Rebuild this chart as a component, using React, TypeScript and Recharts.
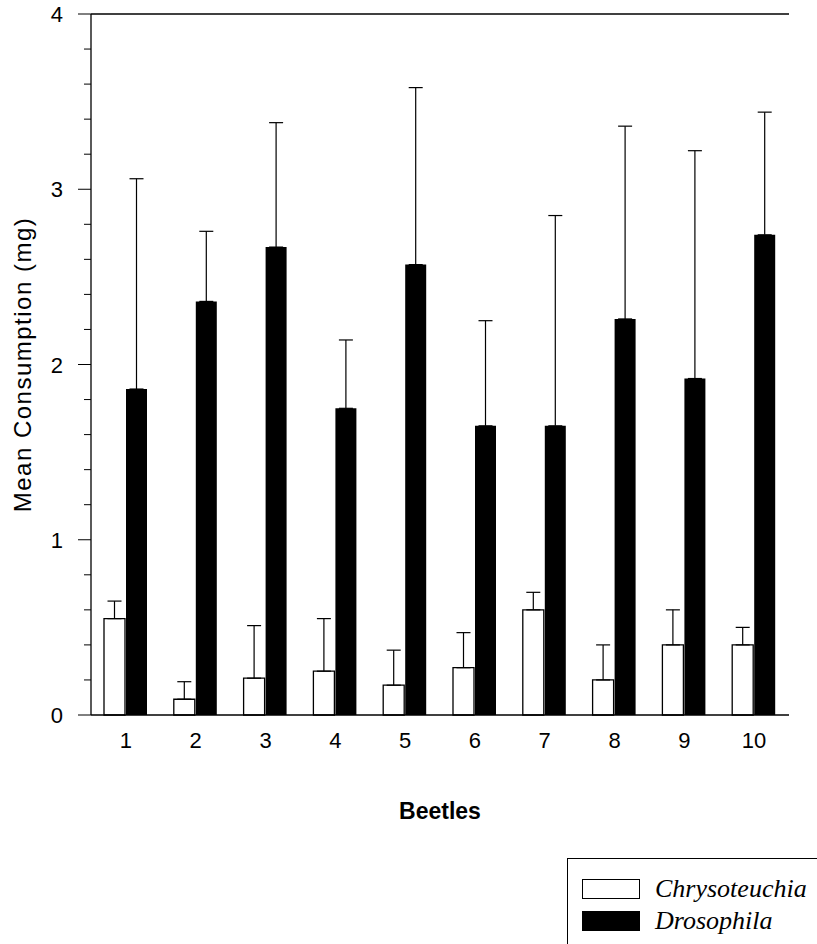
import { BarChart, Bar, ErrorBar, XAxis, YAxis, ReferenceLine } from "recharts"

const beetles = ["1", "2", "3", "4", "5", "6", "7", "8", "9", "10"]

// Chrysoteuchia (white bars)
const chrysoMean = [0.55, 0.09, 0.21, 0.25, 0.17, 0.27, 0.6, 0.2, 0.4, 0.4]
const chrysoSE = [0.1, 0.1, 0.3, 0.3, 0.2, 0.2, 0.1, 0.2, 0.2, 0.1]

// Drosophila (black bars)
const drosoMean = [1.86, 2.36, 2.67, 1.75, 2.57, 1.65, 1.65, 2.26, 1.92, 2.74]
const drosoSE = [1.2, 0.4, 0.71, 0.39, 1.01, 0.6, 1.2, 1.1, 1.3, 0.7]

const yTicks = [0, 0.2, 0.4, 0.6, 0.8, 1, 1.2, 1.4, 1.6, 1.8, 2, 2.2, 2.4, 2.6, 2.8, 3, 3.2, 3.4, 3.6, 3.8, 4]

const data = beetles.map((b, i) => ({
  beetle: b,
  chryso: chrysoMean[i],
  chrysoErr: [0, chrysoSE[i]],
  droso: drosoMean[i],
  drosoErr: [0, drosoSE[i]],
}))

const FONT = "'Liberation Sans', Arial, sans-serif"

const YTick = (props: any) => {
  const { x, y, payload } = props
  const major = Number.isInteger(payload.value)
  return (
    <g>
      <line x1={x - (major ? 13 : 7)} y1={y} x2={x} y2={y} stroke="#000" strokeWidth={1} />
      {major && (
        <text x={x - 28} y={y} dy={8} textAnchor="end" fontSize={22} fontFamily={FONT} fill="#000">
          {payload.value}
        </text>
      )}
    </g>
  )
}

export default function App() {
  return (
    <div style={{ position: "absolute", left: 0, top: 0, width: 817, height: 944, background: "#fff" }}>
      <BarChart
        width={817}
        height={944}
        data={data}
        margin={{ top: 14, right: 28, left: 0, bottom: 119 }}
        barGap={1}
        barCategoryGap="19%"
      >
        <XAxis
          dataKey="beetle"
          height={110}
          tickLine={false}
          tickSize={0}
          tickMargin={17}
          axisLine={{ stroke: "#000", strokeWidth: 1.3 }}
          tick={{ fill: "#000", fontSize: 22, fontFamily: FONT }}
          label={{
            value: "Beetles",
            position: "insideBottom",
            offset: 6,
            fill: "#000",
            fontSize: 23,
            fontWeight: "bold",
            fontFamily: FONT,
          }}
        />
        <YAxis
          width={91}
          domain={[0, 4]}
          ticks={yTicks}
          interval={0}
          tickLine={false}
          tickSize={0}
          tickMargin={0}
          tick={<YTick />}
          axisLine={{ stroke: "#000", strokeWidth: 1.3 }}
          label={{
            value: "Mean Consumption (mg)",
            angle: -90,
            position: "center",
            dx: -23,
            fill: "#000",
            fontSize: 24,
            letterSpacing: 1.5,
            fontFamily: FONT,
          }}
        />
        <YAxis
          yAxisId="right"
          orientation="right"
          width={0}
          domain={[0, 4]}
          tick={false}
          tickLine={false}
          axisLine={{ stroke: "#000", strokeWidth: 1.3 }}
        />
        <ReferenceLine y={4} stroke="#000" strokeWidth={1.5} />
        <Bar dataKey="chryso" barSize={21} fill="#fff" stroke="#000" strokeWidth={1.3} isAnimationActive={false}>
          <ErrorBar dataKey="chrysoErr" width={7} stroke="#000" strokeWidth={1.2} isAnimationActive={false} />
        </Bar>
        <Bar dataKey="droso" barSize={21} fill="#000" isAnimationActive={false}>
          <ErrorBar dataKey="drosoErr" width={7} stroke="#000" strokeWidth={1.2} isAnimationActive={false} />
        </Bar>
      </BarChart>

      <div
        style={{
          position: "absolute",
          left: 567,
          top: 858,
          width: 250,
          height: 86,
          borderLeft: "1.5px solid #000",
          borderTop: "1.5px solid #000",
          boxSizing: "border-box",
          fontFamily: "'Liberation Serif', 'Times New Roman', serif",
          fontStyle: "italic",
          fontSize: 26,
          color: "#000",
        }}
      >
        <div style={{ display: "flex", alignItems: "center", position: "absolute", left: 14, top: 17 }}>
          <span style={{ display: "inline-block", width: 58, height: 20, border: "1px solid #000", boxSizing: "border-box", background: "#fff", marginRight: 15 }} />
          <span style={{ lineHeight: "26px" }}>Chrysoteuchia</span>
        </div>
        <div style={{ display: "flex", alignItems: "center", position: "absolute", left: 14, top: 49 }}>
          <span style={{ display: "inline-block", width: 58, height: 20, background: "#000", marginRight: 15 }} />
          <span style={{ lineHeight: "26px" }}>Drosophila</span>
        </div>
      </div>
    </div>
  )
}
